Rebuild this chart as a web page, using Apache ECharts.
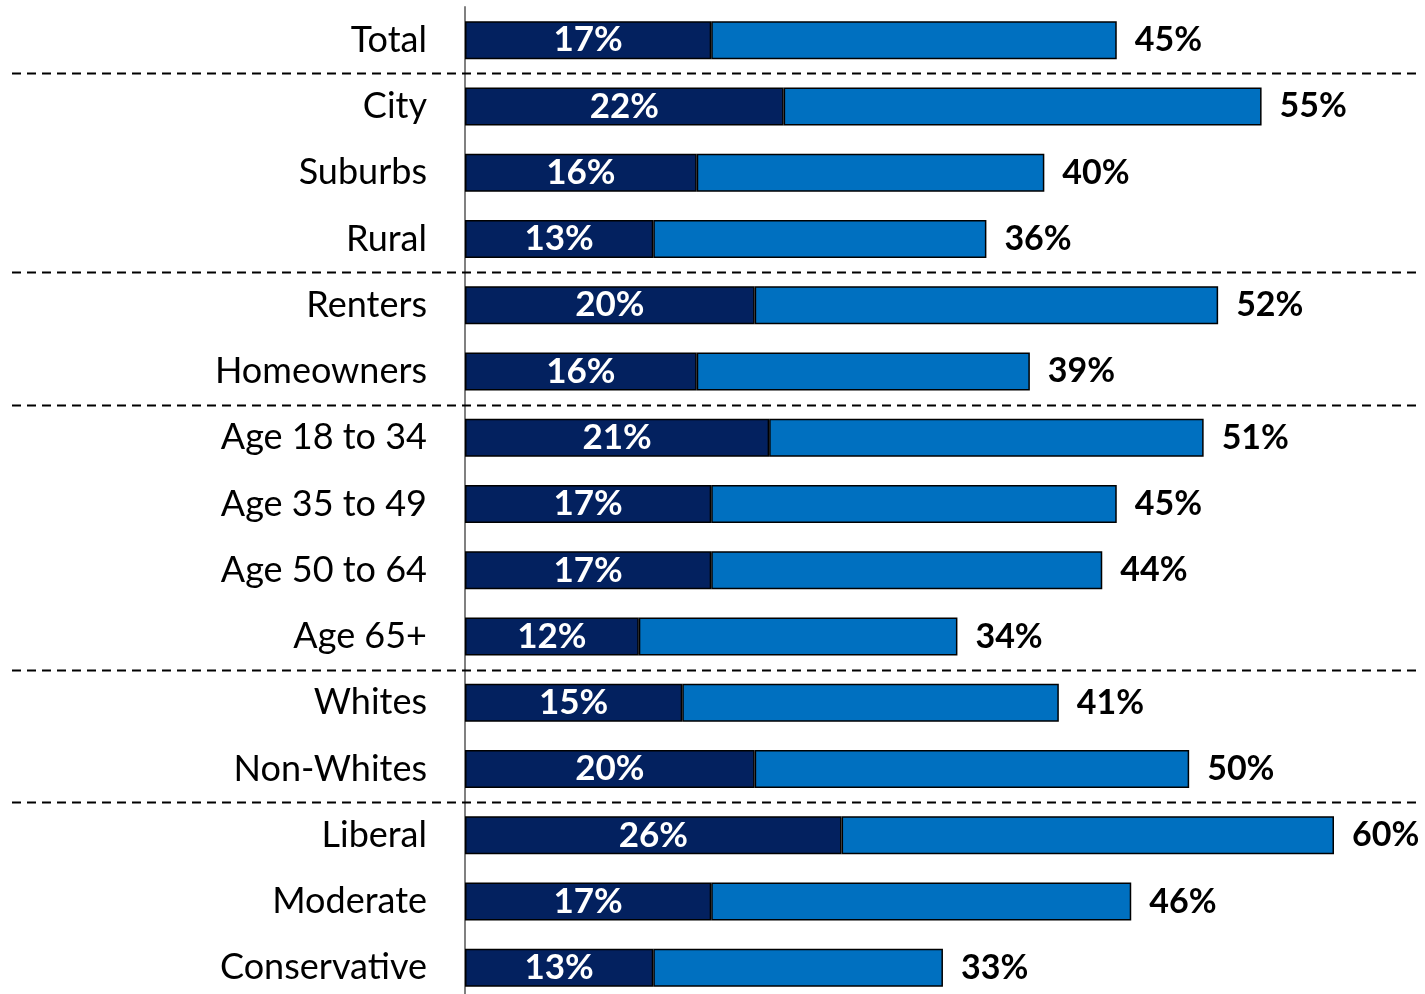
<!DOCTYPE html>
<html>
<head>
<meta charset="utf-8">
<script src="https://cdn.jsdelivr.net/npm/echarts@6/dist/echarts.min.js"></script>
<style>
  html, body { margin: 0; padding: 0; background: #ffffff; overflow: hidden; }
  /* the last row's band runs a few pixels past the bottom of the page */
  #chart { width: 1425px; height: 1001px; }
</style>
</head>
<body>
<div id="chart"></div>
<script>
// Row labels, top to bottom
const categories = ['Total', 'City', 'Suburbs', 'Rural', 'Renters', 'Homeowners',
  'Age 18 to 34', 'Age 35 to 49', 'Age 50 to 64', 'Age 65+',
  'Whites', 'Non-Whites', 'Liberal', 'Moderate', 'Conservative'];

// Inner (dark) share and overall share, in percent
const innerShare = [17, 22, 16, 13, 20, 16, 21, 17, 17, 12, 15, 20, 26, 17, 13];
const totalShare = [45, 55, 40, 36, 52, 39, 51, 45, 44, 34, 41, 50, 60, 46, 33];

// Groups are separated by a dashed rule below these rows
const groupEnds = ['Total', 'Rural', 'Homeowners', 'Age 65+', 'Non-Whites'];

const remainder = totalShare.map((t, i) => t - innerShare[i]);

const FONT = 'Lato, "Open Sans", sans-serif';

const chart = echarts.init(document.getElementById('chart'), null, { renderer: 'canvas' });

chart.setOption({
  animation: false,
  backgroundColor: '#ffffff',
  grid: { left: 465, right: 91, top: 7, bottom: 0, containLabel: false },
  xAxis: {
    type: 'value', min: 0, max: 60, show: false
  },
  yAxis: {
    type: 'category',
    inverse: true,
    data: categories,
    axisLine: { show: true, lineStyle: { color: '#808080', width: 2 } },
    axisTick: { show: false },
    axisLabel: {
      margin: 38, color: '#000000', fontFamily: FONT, fontSize: 36
    },
    splitLine: { show: false }
  },
  series: [
    {
      name: 'inner',
      type: 'bar',
      stack: 'share',
      barWidth: 38,
      data: innerShare,
      itemStyle: { color: '#03215f', borderColor: '#000000', borderWidth: 1.5 },
      label: {
        show: true, position: 'inside', color: '#ffffff',
        fontFamily: FONT, fontWeight: 'bold', fontSize: 35,
        formatter: p => innerShare[p.dataIndex] + '%'
      }
    },
    {
      name: 'rest',
      type: 'bar',
      stack: 'share',
      barWidth: 38,
      data: remainder,
      itemStyle: { color: '#0070c0', borderColor: '#000000', borderWidth: 1.5 },
      label: {
        show: true, position: 'right', distance: 18, color: '#000000',
        fontFamily: FONT, fontWeight: 'bold', fontSize: 34,
        formatter: p => totalShare[p.dataIndex] + '%'
      }
    }
  ]
});

// Dashed group separators across the full width, placed on band boundaries
const yAt = name => chart.convertToPixel({ yAxisIndex: 0 }, name);
const band = yAt(categories[1]) - yAt(categories[0]);
chart.setOption({
  graphic: groupEnds.map(name => {
    const y = Math.round(yAt(name) + band / 2) + 0.5;
    return {
      type: 'line',
      silent: true,
      z: 10,
      shape: { x1: 12, y1: y, x2: 1420, y2: y },
      style: { stroke: '#000000', lineWidth: 2, lineDash: [9, 6] }
    };
  })
});
</script>
</body>
</html>
